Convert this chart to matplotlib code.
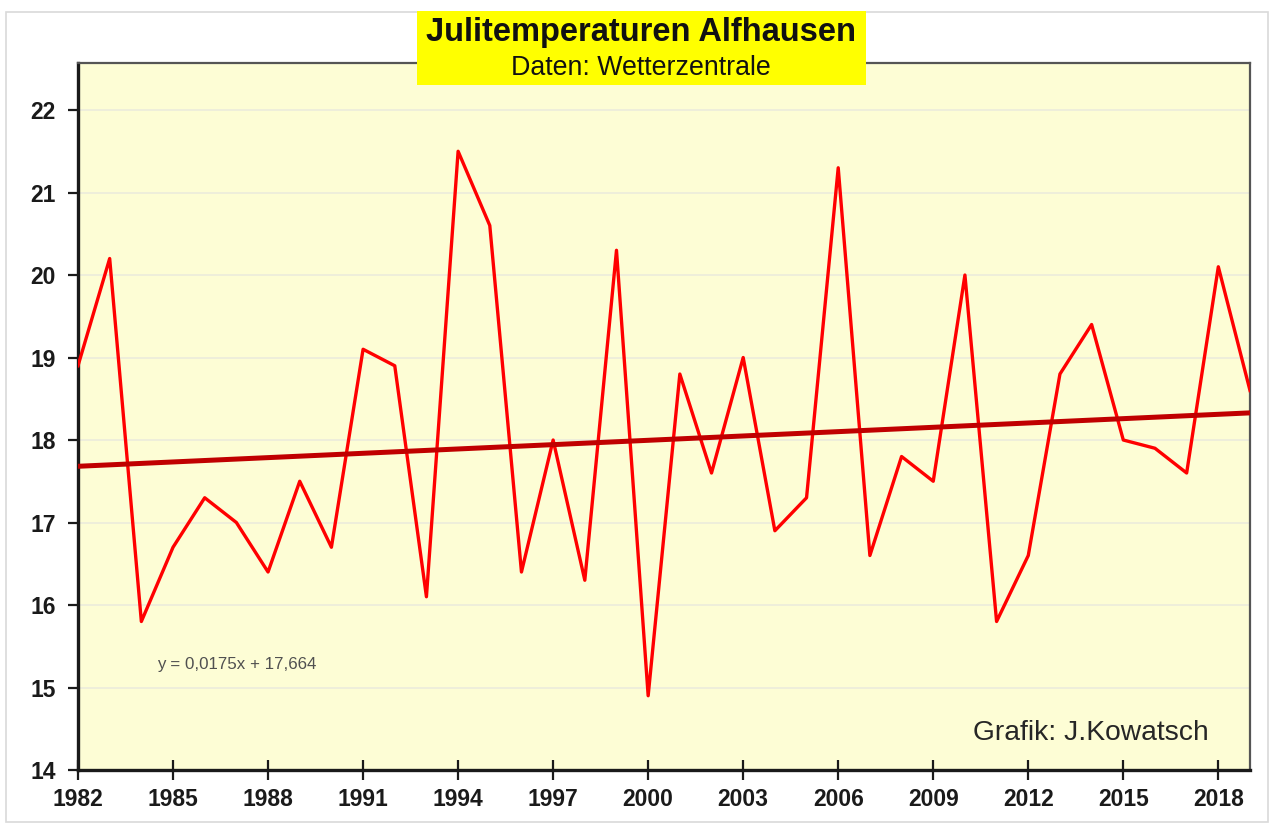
import matplotlib.pyplot as plt
from matplotlib.patches import Rectangle
import numpy as np

plt.rcParams["font.family"] = ["Liberation Sans", "DejaVu Sans"]

# July mean temperatures, Alfhausen
years = list(range(1982, 2020))
temps = [
    18.9, 20.2, 15.8, 16.7, 17.3, 17.0, 16.4, 17.5, 16.7, 19.1,
    18.9, 16.1, 21.5, 20.6, 16.4, 18.0, 16.3, 20.3, 14.9, 18.8,
    17.6, 19.0, 16.9, 17.3, 21.3, 16.6, 17.8, 17.5, 20.0, 15.8,
    16.6, 18.8, 19.4, 18.0, 17.9, 17.6, 20.1, 18.6,
]
trend_slope = 0.0175
trend_intercept = 17.664
x_ticks = list(range(1982, 2019, 3))
y_ticks = list(range(14, 23))

title = "Julitemperaturen Alfhausen"
subtitle = "Daten: Wetterzentrale"
credit = "Grafik: J.Kowatsch"
equation = "y = 0,0175x + 17,664"

W, H = 1282, 833
fig = plt.figure(figsize=(W / 100, H / 100), dpi=100)
fig.patch.set_facecolor("white")
# light grey frame around the whole chart
fig.patches.append(Rectangle((6 / W, 1 - 822 / H), 1262 / W, 810 / H,
                             transform=fig.transFigure, fill=False,
                             edgecolor="#d9d9d9", linewidth=1.2))

ax = fig.add_axes([78 / W, 1 - 770 / H, (1250 - 78) / W, (770 - 63) / H])
ax.set_facecolor("#fdfdd5")

yrs = np.array(years, dtype=float)
idx = np.arange(1, len(years) + 1)
trend = trend_slope * idx + trend_intercept

ax.plot(yrs, temps, color="#ff0000", linewidth=2.4, zorder=3)
ax.plot(yrs, trend, color="#c00000", linewidth=3.6, zorder=4)

ax.set_xlim(1982, 2019)
ax.set_ylim(14, 22.57)
ax.set_xticks(x_ticks)
ax.set_yticks(y_ticks)
ax.grid(axis="y", color="#ececdc", linewidth=1.2, zorder=0)
ax.set_axisbelow(True)

for lab in ax.get_xticklabels() + ax.get_yticklabels():
    lab.set_fontweight("bold")
    lab.set_fontsize(16.5)
    lab.set_color("#1a1a1a")
ax.tick_params(axis="x", direction="inout", length=14, width=1.6, pad=6, colors="#1a1a1a")
ax.tick_params(axis="y", direction="out", length=7, width=1.6, pad=9, colors="#1a1a1a")

for side in ("left", "bottom"):
    ax.spines[side].set_linewidth(2.4)
    ax.spines[side].set_color("#1a1a1a")
for side in ("top", "right"):
    ax.spines[side].set_linewidth(1.6)
    ax.spines[side].set_color("#555555")

fig.text(157 / W, 1 - 665 / H, equation, fontsize=12.2, color="#505050",
         ha="left", va="center")
fig.text(1209 / W, 1 - 733 / H, credit, fontsize=20.3, color="#262626",
         ha="right", va="center")

# yellow title box
fig.patches.append(Rectangle((417 / W, 1 - 85 / H), 449 / W, 74 / H,
                             transform=fig.transFigure, facecolor="#ffff00",
                             edgecolor="none", zorder=5))
fig.text(641 / W, 1 - 32 / H, title, fontsize=23.5, fontweight="bold",
         ha="center", va="center", color="#111111", zorder=6)
fig.text(641 / W, 1 - 68 / H, subtitle, fontsize=19.3,
         ha="center", va="center", color="#111111", zorder=6)

fig.savefig("out.png", dpi=100, facecolor="white")
